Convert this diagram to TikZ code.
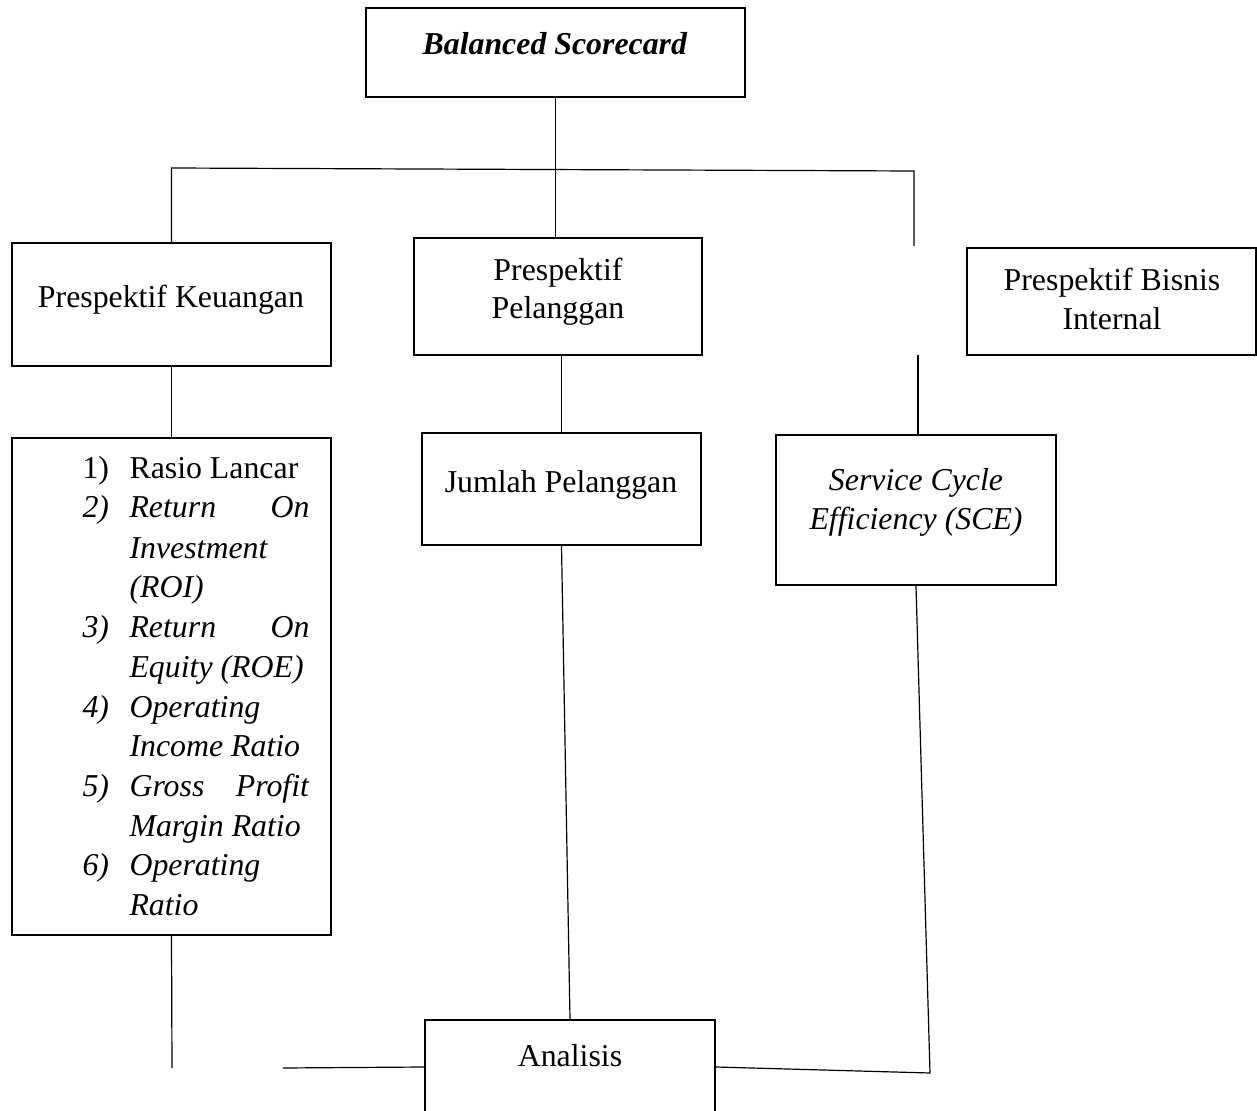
\documentclass[tikz,border=0pt]{standalone}
\usepackage{fontspec}
\setmainfont{Liberation Serif}
\begin{document}
\begin{tikzpicture}[x=0.377pt,y=-0.377pt,
  box/.style={draw,line width=0.8pt,inner sep=0pt,rectangle},
  txt/.style={inner sep=0pt,anchor=base,font=\fontsize{12}{15}\selectfont},
  ltxt/.style={inner sep=0pt,anchor=base west,font=\fontsize{12}{15}\selectfont},
  conn/.style={line width=0.45pt}]
\useasboundingbox (0,0) rectangle (1257,1111);
% boxes
\node[box,minimum width={379*0.377pt},minimum height={89*0.377pt}] (bsc) at (555.5,52.5) {};
\node[box,minimum width={319*0.377pt},minimum height={123*0.377pt}] (keu) at (171.5,304.5) {};
\node[box,minimum width={288*0.377pt},minimum height={117*0.377pt}] (pel) at (558,296.5) {};
\node[box,minimum width={289*0.377pt},minimum height={107*0.377pt}] (bis) at (1111.5,301.5) {};
\node[box,minimum width={319*0.377pt},minimum height={497*0.377pt}] (lst) at (171.5,686.5) {};
\node[box,minimum width={279*0.377pt},minimum height={112*0.377pt}] (jum) at (561.5,489) {};
\node[box,minimum width={280*0.377pt},minimum height={150*0.377pt}] (sce) at (916,510) {};
\node[box,minimum width={290*0.377pt},minimum height={94*0.377pt}] (ana) at (570,1067) {};
% texts
\node[txt] (bscT) at (555,55) {\textbf{\textit{Balanced Scorecard}}};
\node[txt] (keuT) at (171,307) {Prespektif Keuangan};
\node[txt] (pelT1) at (558,280) {Prespektif};
\node[txt] (pelT2) at (558,319) {Pelanggan};
\node[txt] (bisT1) at (1112,290) {Prespektif Bisnis};
\node[txt] (bisT2) at (1112,330) {Internal};
\node[txt] (jumT) at (561,492) {Jumlah Pelanggan};
\node[txt] (sceT1) at (916,490) {\textit{Service Cycle}};
\node[txt] (sceT2) at (916,530) {\textit{Efficiency (SCE)}};
\node[txt] (anaT) at (570,1066) {Analisis};
% list
\def\lw{67.9pt}
\node[ltxt] (n1) at (82,478) {1)};
\node[ltxt] (l1) at (129,478) {Rasio Lancar};
\node[ltxt] (n2) at (82,518) {\textit{2)}};
\node[ltxt] (l2) at (129,518) {\makebox[\lw][l]{\textit{Return}\hfill\textit{On}}};
\node[ltxt] (l3) at (129,558) {\textit{Investment}};
\node[ltxt] (l4) at (129,597) {\textit{(ROI)}};
\node[ltxt] (n5) at (82,637) {\textit{3)}};
\node[ltxt] (l5) at (129,637) {\makebox[\lw][l]{\textit{Return}\hfill\textit{On}}};
\node[ltxt] (l6) at (129,677) {\textit{Equity (ROE)}};
\node[ltxt] (n7) at (82,717) {\textit{4)}};
\node[ltxt] (l7) at (129,717) {\textit{Operating}};
\node[ltxt] (l8) at (129,756) {\textit{Income Ratio}};
\node[ltxt] (n9) at (82,796) {\textit{5)}};
\node[ltxt] (l9) at (129,796) {\makebox[\lw][l]{\textit{Gross}\hfill\textit{Profit}}};
\node[ltxt] (l10) at (129,836) {\textit{Margin Ratio}};
\node[ltxt] (n11) at (82,875) {\textit{6)}};
\node[ltxt] (l11) at (129,875) {\textit{Operating}};
\node[ltxt] (l12) at (129,915) {\textit{Ratio}};
% connector points
\coordinate (tl) at (170,168);
\coordinate (tr) at (914,171);
\coordinate (trE) at (914,246);
\coordinate (bisO) at (918,355);
\coordinate (lb) at (172,1068);
\coordinate (lm) at (283,1068);
\coordinate (rc) at (930,1073);
% connectors
\draw[conn] (bsc.south) -- (bsc.south |- pel.north);
\draw[conn] (keu.north) -- (keu.north |- tl) -- (tr) -- (trE);
\draw[conn] (keu.south) -- (lst.north);
\draw[conn] (jum.north |- pel.south) -- (jum.north);
\draw[conn] (bisO) -- (bisO |- sce.north);
\draw[conn] (jum.south) -- (ana.north);
\draw[conn] (sce.south) -- (rc) -- (ana.east);
\draw[conn] (lst.south) -- (lb);
\draw[conn] (lm) -- (ana.west);
\end{tikzpicture}
\end{document}
